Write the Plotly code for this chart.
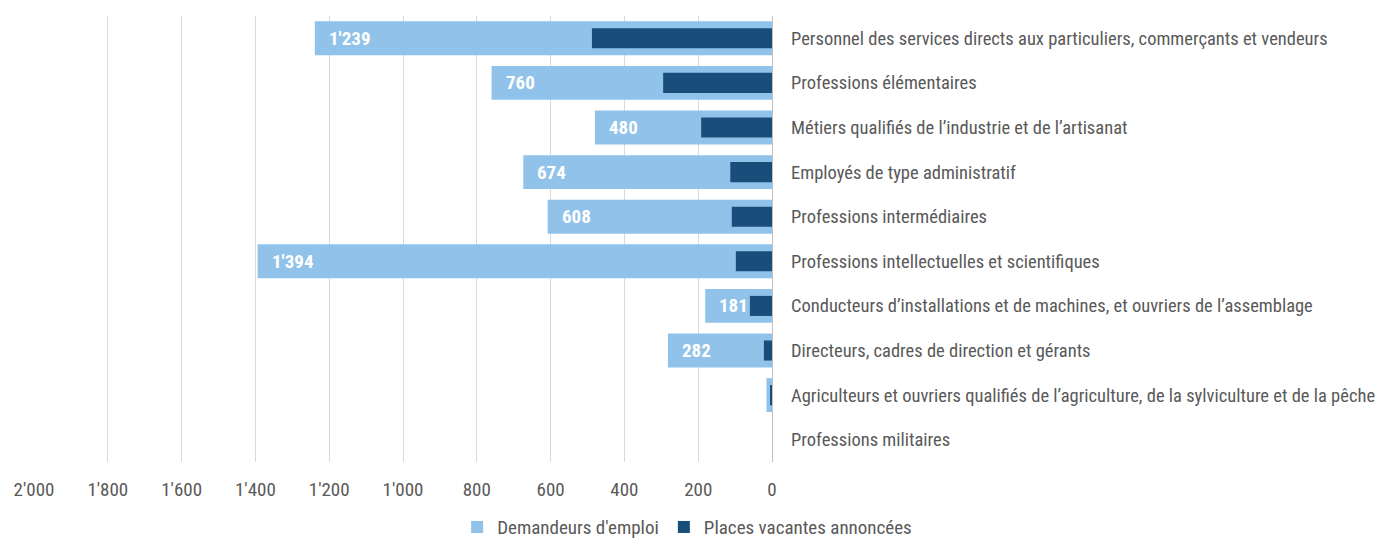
import plotly.graph_objects as go

categories = [
    "Personnel des services directs aux particuliers, commerçants et vendeurs",
    "Professions élémentaires",
    "Métiers qualifiés de l’industrie et de l’artisanat",
    "Employés de type administratif",
    "Professions intermédiaires",
    "Professions intellectuelles et scientifiques",
    "Conducteurs d’installations et de machines, et ouvriers de l’assemblage",
    "Directeurs, cadres de direction et gérants",
    "Agriculteurs et ouvriers qualifiés de l’agriculture, de la sylviculture et de la pêche",
    "Professions militaires",
]
demandeurs = [1239, 760, 480, 674, 608, 1394, 181, 282, 15, 0]
places = [488, 295, 192, 113, 109, 98, 60, 22, 3, 0]
tick_values = [2000, 1800, 1600, 1400, 1200, 1000, 800, 600, 400, 200, 0]

FONT = "Liberation Sans Narrow, Arial Narrow, Roboto Condensed, Liberation Sans, sans-serif"
LIGHT = "#91C3EA"
DARK = "#1A4E7A"
GREY = "#595959"

fig = go.Figure()
fig.add_trace(go.Bar(
    y=categories, x=demandeurs, orientation="h", name="Demandeurs d'emploi",
    marker=dict(color=LIGHT, line=dict(width=0)), width=0.76,
))
fig.add_trace(go.Bar(
    y=categories, x=places, orientation="h", name="Places vacantes annoncées",
    marker=dict(color=DARK, line=dict(width=0)), width=0.45,
))

for cat, v in zip(categories, demandeurs):
    if v >= 100:
        fig.add_annotation(
            x=v, y=cat, xref="x", yref="y", text=f"{v:,}".replace(",", "'"),
            showarrow=False, xanchor="left", yanchor="middle", xshift=12,
            font=dict(family=FONT, size=19, color="white", weight="bold"),
        )

fig.update_layout(
    width=1381, height=542,
    barmode="overlay",
    separators=".'",
    paper_bgcolor="white", plot_bgcolor="white",
    margin=dict(l=34, r=609, t=16, b=80, autoexpand=False),
    font=dict(family=FONT, size=19, color=GREY),
    showlegend=True,
    legend=dict(
        orientation="h", x=0.885, xanchor="center", y=-0.146, yanchor="middle",
        font=dict(family=FONT, size=19, color=GREY), traceorder="normal",
        itemwidth=30,
    ),
    xaxis=dict(
        range=[2000, 0], tickvals=tick_values, tickformat=",d",
        showgrid=True, gridcolor="#D9D9D9", gridwidth=1,
        zeroline=True, zerolinecolor="#BFBFBF", zerolinewidth=1,
        showline=False, ticks="", ticklabelstandoff=14, automargin=False,
        tickfont=dict(family=FONT, size=19, color=GREY),
    ),
    yaxis=dict(
        autorange="reversed", side="right", showgrid=False, showline=False,
        ticks="", ticklabelstandoff=18, automargin=False,
        tickfont=dict(family=FONT, size=18.5, color=GREY),
    ),
)

fig.write_html(
    "out.html",
    config={"displayModeBar": False},
    post_script="document.body.style.margin='0';document.body.style.overflow='hidden';",
)
